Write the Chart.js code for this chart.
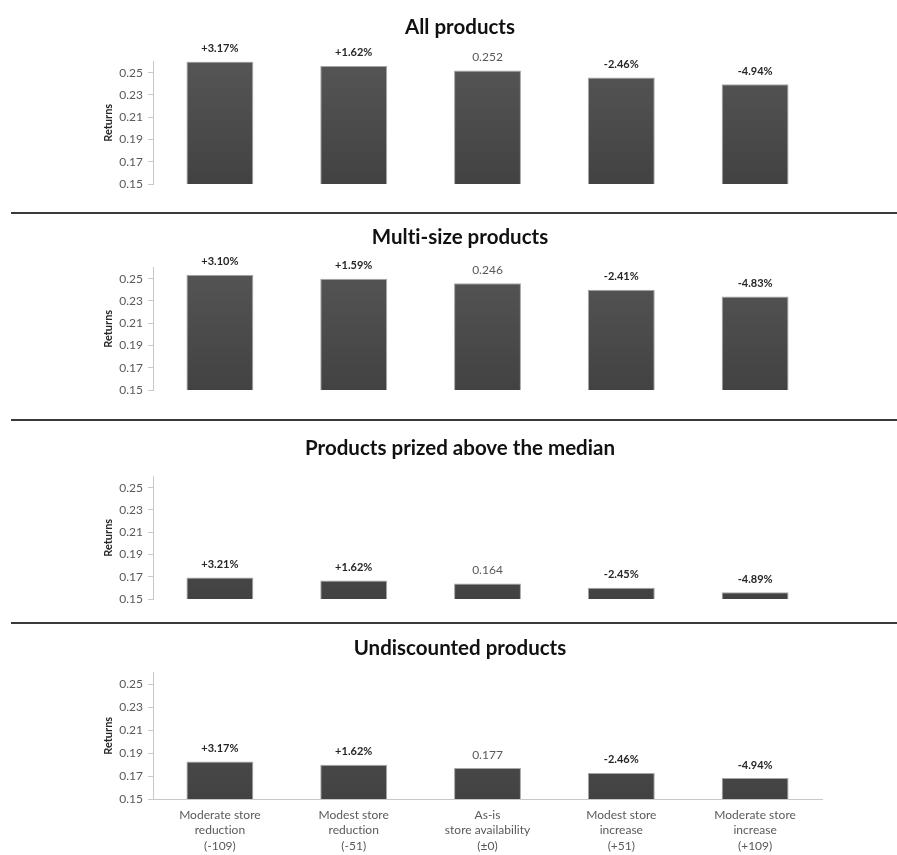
<!DOCTYPE html>
<html>
<head>
<meta charset="utf-8">
<script src="https://cdn.jsdelivr.net/npm/chart.js@4/dist/chart.umd.min.js"></script>
<style>
  html, body { margin: 0; padding: 0; background: #ffffff; overflow: hidden; }
  body { width: 897px; height: 855px; position: relative; }
  canvas { position: absolute; left: 0; }
  .rule { position: absolute; left: 11px; width: 886px; height: 2px; background: #3a3a3a; }
</style>
</head>
<body>
<canvas id="c1" width="897" height="212" style="top:0px"></canvas>
<div class="rule" style="top:212px"></div>
<canvas id="c2" width="897" height="204" style="top:215px"></canvas>
<div class="rule" style="top:419px"></div>
<canvas id="c3" width="897" height="199" style="top:422px"></canvas>
<div class="rule" style="top:622px"></div>
<canvas id="c4" width="897" height="230" style="top:625px"></canvas>
<script>
// Scenario categories (multi-line axis labels)
const categories = [
  ['Moderate store', 'reduction', '(-109)'],
  ['Modest store', 'reduction', '(-51)'],
  ['As-is', 'store availability', '(\u00b10)'],
  ['Modest store', 'increase', '(+51)'],
  ['Moderate store', 'increase', '(+109)']
];

// Returns per scenario
const allProducts      = [0.2600, 0.2561, 0.252, 0.2458, 0.2396];
const multiSize        = [0.2536, 0.2499, 0.246, 0.2401, 0.2341];
const aboveMedian      = [0.1693, 0.1667, 0.164, 0.1600, 0.1560];
const undiscounted     = [0.1826, 0.1799, 0.177, 0.1727, 0.1683];

// Change vs. as-is availability (null = baseline, labelled with its value)
const allChange        = ['+3.17%', '+1.62%', null, '-2.46%', '-4.94%'];
const multiChange      = ['+3.10%', '+1.59%', null, '-2.41%', '-4.83%'];
const aboveChange      = ['+3.21%', '+1.62%', null, '-2.45%', '-4.89%'];
const undiscChange     = ['+3.17%', '+1.62%', null, '-2.46%', '-4.94%'];

// Y axis
const yMin = 0.15;
const yMax = 0.26;
const yTicks = [0.15, 0.17, 0.19, 0.21, 0.23, 0.25];

const FONT = 'Lato, "Open Sans", sans-serif';

// keep plain glyphs (no ligatures) in canvas text
const plainText = {
  id: 'plainText',
  beforeDraw(chart) {
    const ctx = chart.ctx;
    try { ctx.textRendering = 'optimizeSpeed'; } catch (e) {}
    try { ctx.letterSpacing = '0.01px'; } catch (e) {}
  }
};

const barLabels = {
  id: 'barLabels',
  afterDatasetsDraw(chart, args, opts) {
    const ctx = chart.ctx;
    const ds = chart.data.datasets[0];
    const meta = chart.getDatasetMeta(0);
    ctx.save();
    ctx.textAlign = 'center';
    ctx.textBaseline = 'middle';
    meta.data.forEach((bar, i) => {
      const change = opts.changes[i];
      let text;
      if (change === null) {
        text = ds.data[i].toFixed(3);
        ctx.font = '12px ' + FONT;
        ctx.fillStyle = '#595959';
      } else {
        text = change;
        ctx.font = 'bold 11px ' + FONT;
        ctx.fillStyle = '#262626';
      }
      ctx.fillText(text, bar.x, bar.y - 13);
    });
    ctx.restore();
  }
};

function barFill(context) {
  const area = context.chart.chartArea;
  if (!area) return '#4a4a4a';
  const g = context.chart.ctx.createLinearGradient(0, area.top, 0, area.bottom);
  g.addColorStop(0, '#555555');
  g.addColorStop(1, '#424242');
  return g;
}

function makePanel(id, title, values, changes, lay) {
  new Chart(document.getElementById(id), {
    type: 'bar',
    data: {
      labels: categories,
      datasets: [{
        data: values,
        backgroundColor: barFill,
        borderColor: 'rgba(150,150,150,0.85)',
        borderWidth: 1,
        barPercentage: 0.5,
        categoryPercentage: 1.0
      }]
    },
    plugins: [plainText, barLabels],
    options: {
      responsive: false,
      animation: false,
      devicePixelRatio: 1,
      layout: { padding: { left: 98, right: 75, top: 0, bottom: lay.bottom } },
      plugins: {
        legend: { display: false },
        tooltip: { enabled: false },
        title: {
          display: true,
          text: title,
          color: '#111111',
          font: { family: FONT, size: 20.5, weight: 'bold', lineHeight: 1.2 },
          padding: { top: lay.titleTop, bottom: lay.titleBottom }
        },
        barLabels: { changes: changes }
      },
      scales: {
        x: {
          display: lay.showX,
          grid: { display: false, drawTicks: false },
          border: { display: true, color: '#c8c8c8', width: 1 },
          ticks: {
            color: '#595959',
            padding: 8,
            maxRotation: 0,
            autoSkip: false,
            font: { family: FONT, size: 12, lineHeight: 1.3 }
          },
          afterFit(scale) { if (lay.showX) scale.height = 56; }
        },
        y: {
          min: yMin,
          max: yMax,
          afterBuildTicks(scale) { scale.ticks = yTicks.map(v => ({ value: v })); },
          afterFit(scale) { scale.width = 55; },
          grid: { drawOnChartArea: false, drawTicks: true, tickLength: 5, color: '#c8c8c8' },
          border: { display: true, color: '#c8c8c8', width: 1 },
          ticks: {
            color: '#595959',
            padding: 5,
            font: { family: FONT, size: 12 },
            callback: v => v.toFixed(2)
          },
          title: {
            display: true,
            text: 'Returns',
            color: '#262626',
            font: { family: FONT, size: 11, weight: 'bold', lineHeight: 1.2 },
            padding: { top: 4, bottom: 4 }
          }
        }
      }
    }
  });
}

makePanel('c1', 'All products', allProducts, allChange,
  { titleTop: 15, titleBottom: 22, bottom: 28, showX: false });
makePanel('c2', 'Multi-size products', multiSize, multiChange,
  { titleTop: 10, titleBottom: 18, bottom: 29, showX: false });
makePanel('c3', 'Products prized above the median', aboveMedian, aboveChange,
  { titleTop: 14, titleBottom: 16, bottom: 22, showX: false });
makePanel('c4', 'Undiscounted products', undiscounted, undiscChange,
  { titleTop: 11, titleBottom: 12, bottom: 0, showX: true });
</script>
</body>
</html>
